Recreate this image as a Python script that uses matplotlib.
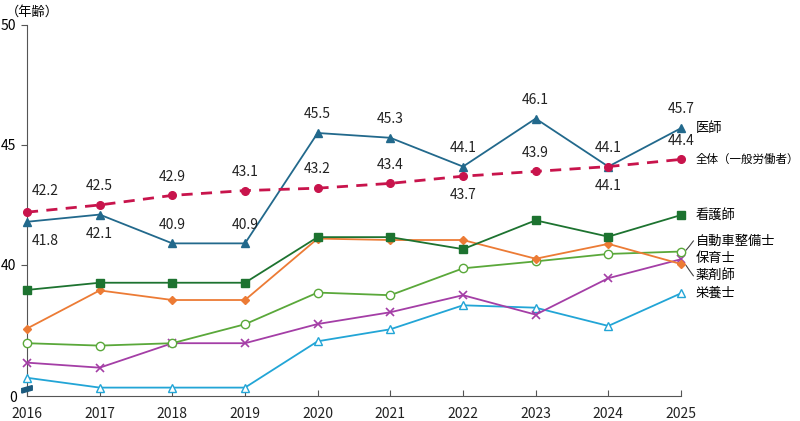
import numpy as np
import matplotlib.pyplot as plt
from matplotlib.patches import Polygon

plt.rcParams['font.family'] = ['Noto Sans CJK JP', 'DejaVu Sans']

# データ（平均年齢）
years = [2016, 2017, 2018, 2019, 2020, 2021, 2022, 2023, 2024, 2025]
doctor = [41.8, 42.1, 40.9, 40.9, 45.5, 45.3, 44.1, 46.1, 44.1, 45.7]
overall = [42.2, 42.5, 42.9, 43.1, 43.2, 43.4, 43.7, 43.9, 44.1, 44.4]
nurse = [38.96, 39.26, 39.26, 39.26, 41.16, 41.16, 40.66, 41.86, 41.18, 42.08]
mechanic = [36.74, 36.64, 36.74, 37.53, 38.85, 38.74, 39.86, 40.15, 40.46, 40.56]
childcare = [35.93, 35.72, 36.74, 36.74, 37.54, 38.03, 38.74, 37.93, 39.45, 40.24]
pharmacist = [37.35, 38.94, 38.54, 38.54, 41.1, 41.04, 41.04, 40.26, 40.88, 40.04]
dietitian = [35.3, 34.89, 34.89, 34.89, 36.82, 37.32, 38.32, 38.22, 37.46, 38.82]

# 値ラベルの位置（上:+1 / 下:-1）
doctor_pos = [-1, -1, 1, 1, 1, 1, 1, 1, 1, 1]
overall_pos = [1, 1, 1, 1, 1, 1, -1, 1, -1, 1]

fig = plt.figure(figsize=(8, 4.21), dpi=100)
ax = fig.add_axes([27/800, 25/421, 654/800, 371/421])
ax.set_xlim(2016, 2025)
ax.set_ylim(34.54, 50)

c_doc = '#22698c'
c_all = '#c8144c'
c_nur = '#1d7330'
c_mec = '#5aa83a'
c_chi = '#a43ea6'
c_pha = '#ec7b35'
c_die = '#22a5d6'

kw = dict(lw=1.3, clip_on=False, zorder=3)
ax.plot(years, dietitian, color=c_die, marker='^', ms=6, mfc='white', mec=c_die, **kw)
ax.plot(years, childcare, color=c_chi, marker='x', ms=6, mew=1.2, **kw)
ax.plot(years, mechanic, color=c_mec, marker='o', ms=6, mfc='white', mec=c_mec, **kw)
ax.plot(years, pharmacist, color=c_pha, marker='D', ms=4, **kw)
ax.plot(years, nurse, color=c_nur, marker='s', ms=6, **kw)
ax.plot(years, doctor, color=c_doc, marker='^', ms=6, **kw)
ax.plot(years, overall, color=c_all, marker='o', ms=5.5, lw=2, ls=(0, (4, 3)), clip_on=False, zorder=4)

for x, v, p in zip(years, doctor, doctor_pos):
    dx = 0.25 if x == 2016 else 0
    dy = 0.78 if p > 0 else -0.8
    ax.text(x + dx, v + dy, f'{v:.1f}', ha='center', va='center', fontsize=10, color='#222222')
for x, v, p in zip(years, overall, overall_pos):
    dx = 0.25 if x == 2016 else 0
    dy = 0.88 if x == 2016 else (0.78 if p > 0 else -0.8)
    ax.text(x + dx, v + dy, f'{v:.1f}', ha='center', va='center', fontsize=10, color='#222222')

# 系列名
lx = 2025.2
lfs = 9.5
ax.text(lx, 45.7, '医師', ha='left', va='center', fontsize=lfs, clip_on=False)
ax.text(lx, 44.4, '全体（一般労働者）', ha='left', va='center', fontsize=8.3, clip_on=False)
ax.text(lx, 42.08, '看護師', ha='left', va='center', fontsize=lfs, clip_on=False)
ax.text(lx, 41.0, '自動車整備士', ha='left', va='center', fontsize=lfs, clip_on=False)
ax.text(lx, 40.25, '保育士', ha='left', va='center', fontsize=lfs, clip_on=False)
ax.text(lx, 39.55, '薬剤師', ha='left', va='center', fontsize=lfs, clip_on=False)
ax.text(lx, 38.82, '栄養士', ha='left', va='center', fontsize=lfs, clip_on=False)
ax.plot([2025.07, 2025.12, 2025.17], [40.62, 40.8, 41.0], color='#444444', lw=0.8, clip_on=False)
ax.plot([2025.07, 2025.12, 2025.17], [39.98, 39.76, 39.55], color='#444444', lw=0.8, clip_on=False)

# 軸
for s in ['top', 'right']:
    ax.spines[s].set_visible(False)
ax.spines['left'].set_color('#555555')
ax.spines['bottom'].set_color('#555555')
ax.set_xticks(years)
ax.set_xticklabels([str(y) for y in years], fontsize=10, color='#222222')
ax.tick_params(axis='x', direction='in', length=4, color='#555555', pad=8)
ax.set_yticks([34.54, 40, 45, 50])
ax.set_yticklabels(['0', '40', '45', '50'], fontsize=10)
ax.tick_params(axis='y', direction='out', length=4, color='#555555')
ax.yaxis.get_major_ticks()[0].tick1line.set_visible(False)

# 省略記号
brk = Polygon([(-0.008, 0.008), (0.008, 0.016), (0.008, 0.028), (-0.008, 0.02)],
              closed=True, transform=ax.transAxes, color='#1c5a7e', clip_on=False, zorder=5)
ax.add_patch(brk)

fig.text(6/800, 1 - 12/421, '（年齢）', fontsize=9.5, va='center', ha='left')

fig.savefig('out.png', dpi=100)
